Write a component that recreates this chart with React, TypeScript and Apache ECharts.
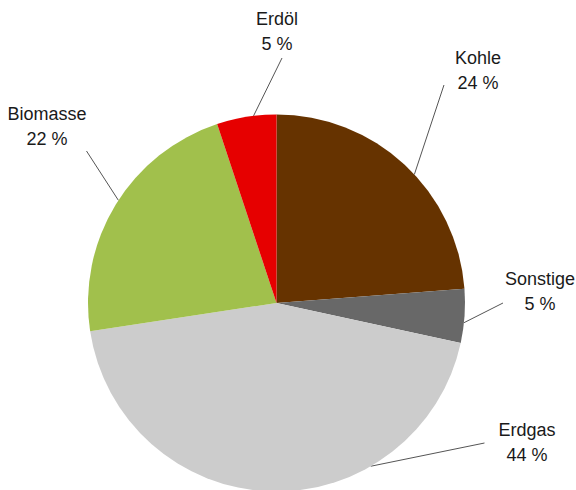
import React, { useEffect, useRef } from "react";
import * as echarts from "echarts";

// ---- data ----
const categories = ["Kohle", "Sonstige", "Erdgas", "Biomasse", "Erdöl"];
const shares = [23.8, 4.6, 44.2, 22.3, 5.1];
const sliceColors = ["#663300", "#686868", "#cccccc", "#a1c04c", "#e60000"];

// ---- layout (label placement & leader lines) ----
const PIE_CX = 276.5;
const PIE_CY = 303;
const PIE_R = 188.5;
const labelCenters = [
  [478, 70],
  [540, 291],
  [527, 442],
  [47, 126],
  [277, 31],
];
// angle (deg, clockwise from top) where the leader line touches the pie
const leaderAngles = [47, 96, 150, 303, 353];
// leader end on label box: [fx, fy, dx, dy]
const leaderEnds = [
  [0, 0.8, -11, 0],
  [0, 0.74, -2, 0],
  [0, 0.52, -14, 0],
  [1, 1, 0, 0],
  [0.5, 1, 5, 2],
];

export default function App() {
  const ref = useRef<HTMLDivElement>(null);
  useEffect(() => {
    if (!ref.current) return;
    const chart = echarts.init(ref.current, null, { renderer: "svg" });
    const data = categories.map((name, i) => ({
      name,
      value: shares[i],
      itemStyle: { color: sliceColors[i] },
    }));
    chart.setOption({
      animation: false,
      backgroundColor: "#ffffff",
      series: [
        {
          type: "pie",
          center: [PIE_CX, PIE_CY],
          radius: PIE_R,
          startAngle: 90,
          clockwise: true,
          percentPrecision: 0,
          avoidLabelOverlap: false,
          data,
          itemStyle: { borderWidth: 0 },
          label: {
            show: true,
            position: "outside",
            formatter: "{b}\n{d} %",
            fontFamily: "Liberation Sans, Arial, sans-serif",
            fontSize: 18,
            lineHeight: 25,
            color: "#1a1a1a",
            align: "center",
          },
          labelLine: {
            show: true,
            length: 10,
            length2: 10,
            smooth: false,
            lineStyle: { color: "#555555", width: 1 },
          },
          emphasis: { disabled: true },
          labelLayout: (params: any) => {
            const i = params.dataIndex;
            const [x, y] = labelCenters[i];
            const w = params.labelRect.width;
            const h = params.labelRect.height;
            const rx = x - w / 2;
            const ry = y - h / 2;
            const [fx, fy, dx, dy] = leaderEnds[i];
            const end = [rx + fx * w + dx, ry + fy * h + dy];
            const a = (leaderAngles[i] * Math.PI) / 180;
            const start = [PIE_CX + PIE_R * Math.sin(a), PIE_CY - PIE_R * Math.cos(a)];
            return {
              x,
              y,
              align: "center",
              verticalAlign: "middle",
              labelLinePoints: [start, end, end],
            };
          },
        },
      ],
    });
    return () => chart.dispose();
  }, []);
  return (
    <div
      ref={ref}
      style={{ position: "fixed", left: 0, top: 0, width: 576, height: 490 }}
    />
  );
}
